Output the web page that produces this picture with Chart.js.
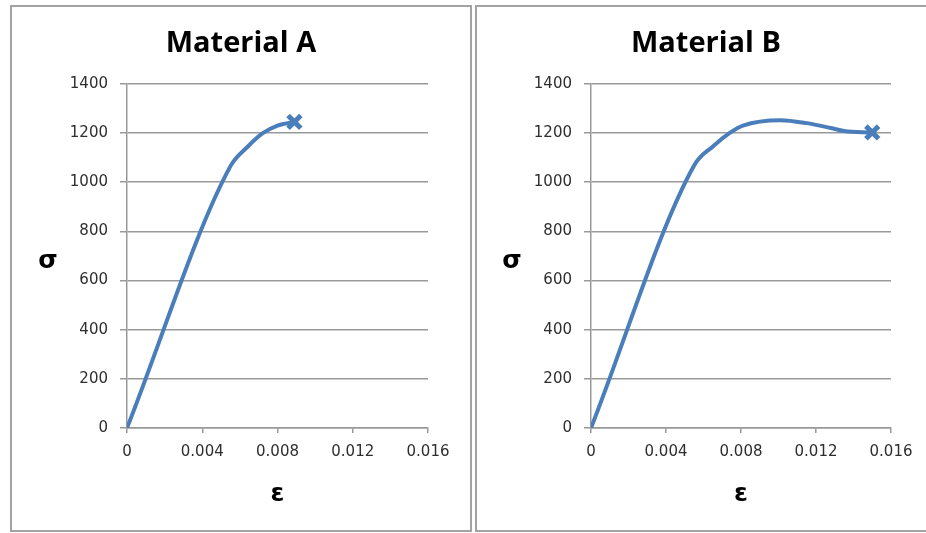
<!DOCTYPE html>
<html>
<head>
<meta charset="utf-8">
<script src="https://cdn.jsdelivr.net/npm/chart.js@4.4.1/dist/chart.umd.min.js"></script>
<style>
  html, body { margin: 0; padding: 0; background: #fff; width: 926px; height: 533px; overflow: hidden; }
  .box { position: absolute; top: 5px; height: 523px; border: 2px solid #a3a3a3; background: #fff; }
  .box canvas { position: absolute; left: 0; top: 0; }
</style>
</head>
<body>
<div class="box" id="boxA" style="left:10px; width:458px;"><canvas id="chartA" width="458" height="523"></canvas></div>
<div class="box" id="boxB" style="left:475px; width:458px;"><canvas id="chartB" width="458" height="523"></canvas></div>
<script>
// strain / stress
const strainA = [0, 0.0055, 0.0064, 0.0072, 0.0080, 0.0089]
const stressA = [0, 1065, 1143, 1198, 1230, 1245]

const strainB = [0, 0.0055, 0.0065, 0.0074, 0.0081, 0.0101, 0.0115, 0.0128, 0.0135, 0.0150]
const stressB = [0, 1068, 1145, 1200, 1230, 1252, 1240, 1220, 1208, 1202]

const xTickLabels = ['0', '0.004', '0.008', '0.012', '0.016']
const yTickLabels = ['0', '200', '400', '600', '800', '1000', '1200', '1400']

const lineColor = '#4a7ebb'
const gridColor = '#999999'
const textColor = '#2e2e2e'

// upright sigma on the left, Chart.js would rotate a y title
const sigmaPlugin = {
    id: 'sigmaLabel',
    afterDraw(chart) {
        const { ctx, chartArea } = chart
        ctx.save()
        ctx.font = 'bold 25px "DejaVu Sans"'
        ctx.fillStyle = '#000'
        ctx.textAlign = 'center'
        ctx.textBaseline = 'middle'
        ctx.fillText('σ', chartArea.left - 79, (chartArea.top + chartArea.bottom) / 2 + 6)
        ctx.restore()
    }
}

function makeChart(canvasId, title, xs, ys, yWidth, rightPad) {
    const points = xs.map((x, i) => ({ x: x, y: ys[i] }))
    const last = points.length - 1
    return new Chart(document.getElementById(canvasId), {
        type: 'line',
        data: {
            datasets: [{
                data: points,
                borderColor: lineColor,
                backgroundColor: lineColor,
                borderWidth: 4,
                cubicInterpolationMode: 'monotone',
                pointStyle: 'crossRot',
                pointRadius: points.map((p, i) => i === last ? 9 : 0),
                pointBorderWidth: 5,
                pointHoverRadius: 0
            }]
        },
        options: {
            responsive: false,
            animation: false,
            plugins: {
                legend: { display: false },
                tooltip: { enabled: false },
                title: {
                    display: true,
                    text: title,
                    color: '#000',
                    font: { family: 'Open Sans', size: 29, weight: 'bold' },
                    padding: { top: 19, bottom: 23 }
                }
            },
            scales: {
                x: {
                    type: 'linear',
                    min: 0,
                    max: 0.016,
                    afterBuildTicks(scale) {
                        scale.ticks = xTickLabels.map(v => ({ value: parseFloat(v) }))
                    },
                    afterFit(scale) { scale.height = 102 },
                    ticks: {
                        color: textColor,
                        font: { family: 'DejaVu Sans', size: 15 },
                        padding: 10,
                        maxRotation: 0,
                        callback: (v, i) => xTickLabels[i]
                    },
                    grid: { drawOnChartArea: false, drawTicks: true, tickLength: 5, color: gridColor, lineWidth: 1.5 },
                    border: { color: gridColor, width: 1.5 },
                    title: {
                        display: true,
                        text: 'ε',
                        color: '#000',
                        font: { family: 'DejaVu Sans', size: 25, weight: 'bold' },
                        padding: { top: 0, bottom: 21 }
                    }
                },
                y: {
                    type: 'linear',
                    min: 0,
                    max: 1400,
                    afterBuildTicks(scale) {
                        scale.ticks = yTickLabels.map(v => ({ value: parseFloat(v) }))
                    },
                    afterFit(scale) { scale.width = yWidth },
                    ticks: {
                        color: textColor,
                        font: { family: 'DejaVu Sans', size: 15 },
                        padding: 12,
                        callback: (v, i) => yTickLabels[i]
                    },
                    grid: { color: gridColor, lineWidth: 1.5, tickLength: 7 },
                    border: { color: gridColor, width: 1.5 }
                },
                // empty right axis, only keeps space so the title stays centred on the box
                yRight: {
                    type: 'linear',
                    position: 'right',
                    afterFit(scale) { scale.width = rightPad },
                    ticks: { display: false },
                    grid: { display: false },
                    border: { display: false }
                }
            }
        },
        plugins: [sigmaPlugin]
    })
}

makeChart('chartA', 'Material A', strainA, stressA, 115, 42)
makeChart('chartB', 'Material B', strainB, stressB, 114, 44)
</script>
</body>
</html>
